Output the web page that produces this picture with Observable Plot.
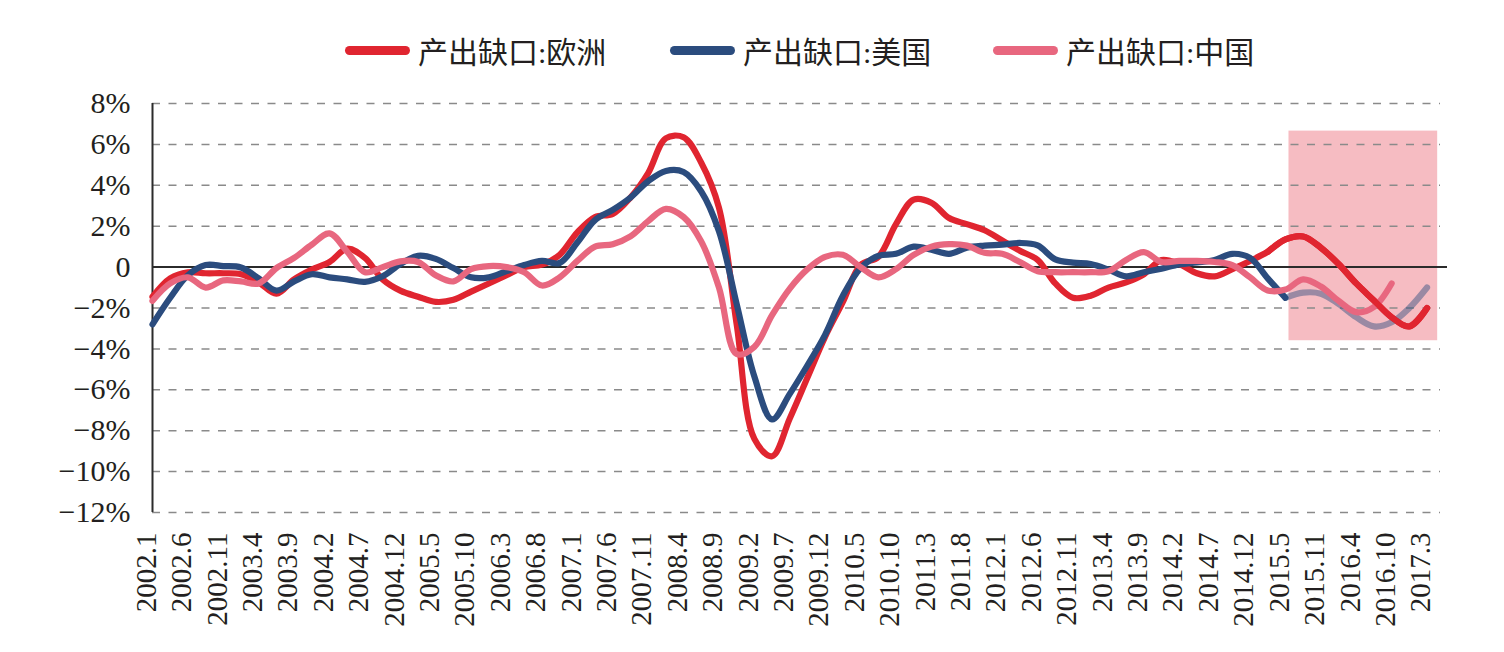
<!DOCTYPE html>
<html>
<head>
<meta charset="utf-8">
<script src="https://cdn.jsdelivr.net/npm/d3@7"></script>
<script src="https://cdn.jsdelivr.net/npm/@observablehq/plot@0.6"></script>
<style>
  body { margin: 0; background: #fff; }
  #legend { position: relative; height: 85px; font-family: "Liberation Serif", "Noto Sans CJK SC", serif; font-size: 30px; color: #231f20; }
  .item { position: absolute; top: 30px; height: 40px; display: flex; align-items: center; white-space: nowrap; }
  .sw { width: 65px; height: 9px; border-radius: 4.5px; margin-right: 8px; }
</style>
</head>
<body>
<div id="legend"></div>
<div id="chart"></div>
<script>
// Category labels along the x axis (one every 5 periods)
const xLabels = ["2002.1","2002.6","2002.11","2003.4","2003.9","2004.2","2004.7","2004.12","2005.5","2005.10",
  "2006.3","2006.8","2007.1","2007.6","2007.11","2008.4","2008.9","2009.2","2009.7","2009.12",
  "2010.5","2010.10","2011.3","2011.8","2012.1","2012.6","2012.11","2013.4","2013.9","2014.2",
  "2014.7","2014.12","2015.5","2015.11","2016.4","2016.10","2017.3"];

// Output gap (%), sampled every half label step
const euro = [-1.45,-0.55,-0.25,-0.3,-0.3,-0.35,-0.75,-1.3,-0.6,-0.12,
  0.25,0.9,0.45,-0.6,-1.15,-1.45,-1.7,-1.6,-1.2,-0.8,
  -0.4,0.0,0.12,0.6,1.7,2.45,2.6,3.4,4.6,6.3,
  6.35,5.1,2.9,-2.8,-8.4,-9.25,-7.4,-5.4,-3.4,-1.7,
  0.1,0.5,2.1,3.3,3.15,2.4,2.1,1.8,1.3,0.8,
  0.35,-0.8,-1.5,-1.4,-1.0,-0.75,-0.35,0.35,0.15,-0.3,
  -0.45,-0.1,0.3,0.75,1.35,1.5,0.95,0.15,-0.8,-1.63,
  -2.45,-2.9,-2.0];
const us = [-2.8,-1.5,-0.4,0.1,0.05,-0.02,-0.55,-1.15,-0.7,-0.35,
  -0.5,-0.6,-0.72,-0.45,0.15,0.55,0.4,-0.05,-0.5,-0.5,
  -0.2,0.1,0.3,0.2,1.2,2.3,2.8,3.4,4.2,4.7,
  4.65,3.7,1.75,-1.8,-5.35,-7.45,-6.2,-4.8,-3.3,-1.4,
  -0.05,0.55,0.65,1.0,0.85,0.65,0.95,1.05,1.1,1.18,
  1.06,0.38,0.22,0.15,-0.12,-0.45,-0.25,-0.08,0.13,0.23,
  0.35,0.65,0.45,-0.55,-1.5,-1.25,-1.3,-1.8,-2.45,-2.9,
  -2.7,-2.0,-1.0];
const china = [-1.65,-0.8,-0.5,-1.0,-0.65,-0.7,-0.8,-0.05,0.45,1.1,
  1.65,0.75,-0.25,0.0,0.28,0.25,-0.4,-0.7,-0.1,0.05,
  0.0,-0.25,-0.9,-0.5,0.3,1.0,1.12,1.5,2.25,2.85,
  2.45,1.25,-1.0,-4.25,-3.9,-2.35,-1.05,-0.1,0.5,0.6,
  0.0,-0.5,-0.1,0.6,1.0,1.12,1.05,0.7,0.65,0.25,
  -0.2,-0.25,-0.25,-0.25,-0.2,0.35,0.73,0.25,0.3,0.3,
  0.25,0.1,-0.5,-1.14,-1.1,-0.6,-0.95,-1.65,-2.2,-1.95,
  -0.8];

const yTicks = [-12,-10,-8,-6,-4,-2,0,2,4,6,8];
const projStart = 32; // label step where the projection begins (2015.5)
const highlight = [{x1: 32.1, x2: 36.3, y1: -3.6, y2: 6.65}];

const series = [
  {name: "产出缺口:欧洲", color: "#e02530"},
  {name: "产出缺口:美国", color: "#2b4c7e"},
  {name: "产出缺口:中国", color: "#e8677f"}
];

// legend
const legend = document.getElementById("legend");
const legendLeft = [345, 670, 993];
series.forEach((s, i) => {
  const item = document.createElement("div");
  item.className = "item";
  item.style.left = legendLeft[i] + "px";
  item.innerHTML = `<span class="sw" style="background:${s.color}"></span><span>${s.name}</span>`;
  legend.appendChild(item);
});

const rows = vals => vals.map((v, i) => ({t: i / 2, v}));
const euroRows = rows(euro);
const usRows = rows(us);
const chinaRows = rows(china);

const fmtY = d => d === 0 ? "0" : (d < 0 ? "\u2212" + Math.abs(d) : d) + "%";
const lineOpts = (color, extra = {}) => ({x: "t", y: "v", stroke: color, strokeWidth: 6.2,
  curve: "catmull-rom", strokeLinejoin: "round", strokeLinecap: "round", ...extra});

const chart = Plot.plot({
  width: 1504,
  height: 567,
  marginTop: 18,
  marginBottom: 140,
  marginLeft: 152,
  marginRight: 64,
  style: {fontFamily: "'Liberation Serif', 'Times New Roman', serif", color: "#231f20", background: "#fff"},
  x: {domain: [0, 36.38], label: null},
  y: {domain: [-12, 8], label: null},
  marks: [
    Plot.rect(highlight, {x1: "x1", x2: "x2", y1: "y1", y2: "y2", fill: "#ef8590", fillOpacity: 0.55}),
    Plot.ruleY(yTicks.filter(d => d !== 0), {stroke: "#8a8a8a", strokeWidth: 1.5, strokeDasharray: "8,8.5"}),
    Plot.ruleY([0], {stroke: "#2b2b2b", strokeWidth: 2, insetRight: -7}),
    Plot.ruleX([0], {stroke: "#2b2b2b", strokeWidth: 2}),
    Plot.axisY({ticks: yTicks, tickFormat: fmtY, tickSize: 0, tickPadding: 22, fontSize: 30, label: null}),
    Plot.axisX({ticks: d3.range(xLabels.length), tickFormat: i => xLabels[i], tickRotate: -90,
      tickSize: 0, tickPadding: 20, fontSize: 29, dx: -6, label: null}),
    Plot.line(euroRows, lineOpts(series[0].color)),
    Plot.line(usRows.filter(d => d.t <= projStart), lineOpts(series[1].color)),
    Plot.line(usRows.filter(d => d.t >= projStart), lineOpts(series[1].color, {strokeOpacity: 0.45})),
    Plot.line(chinaRows, lineOpts(series[2].color)),
    Plot.line(euroRows.filter(d => d.t >= projStart - 0.5), lineOpts(series[0].color))
  ]
});
document.getElementById("chart").appendChild(chart);
</script>
</body>
</html>
